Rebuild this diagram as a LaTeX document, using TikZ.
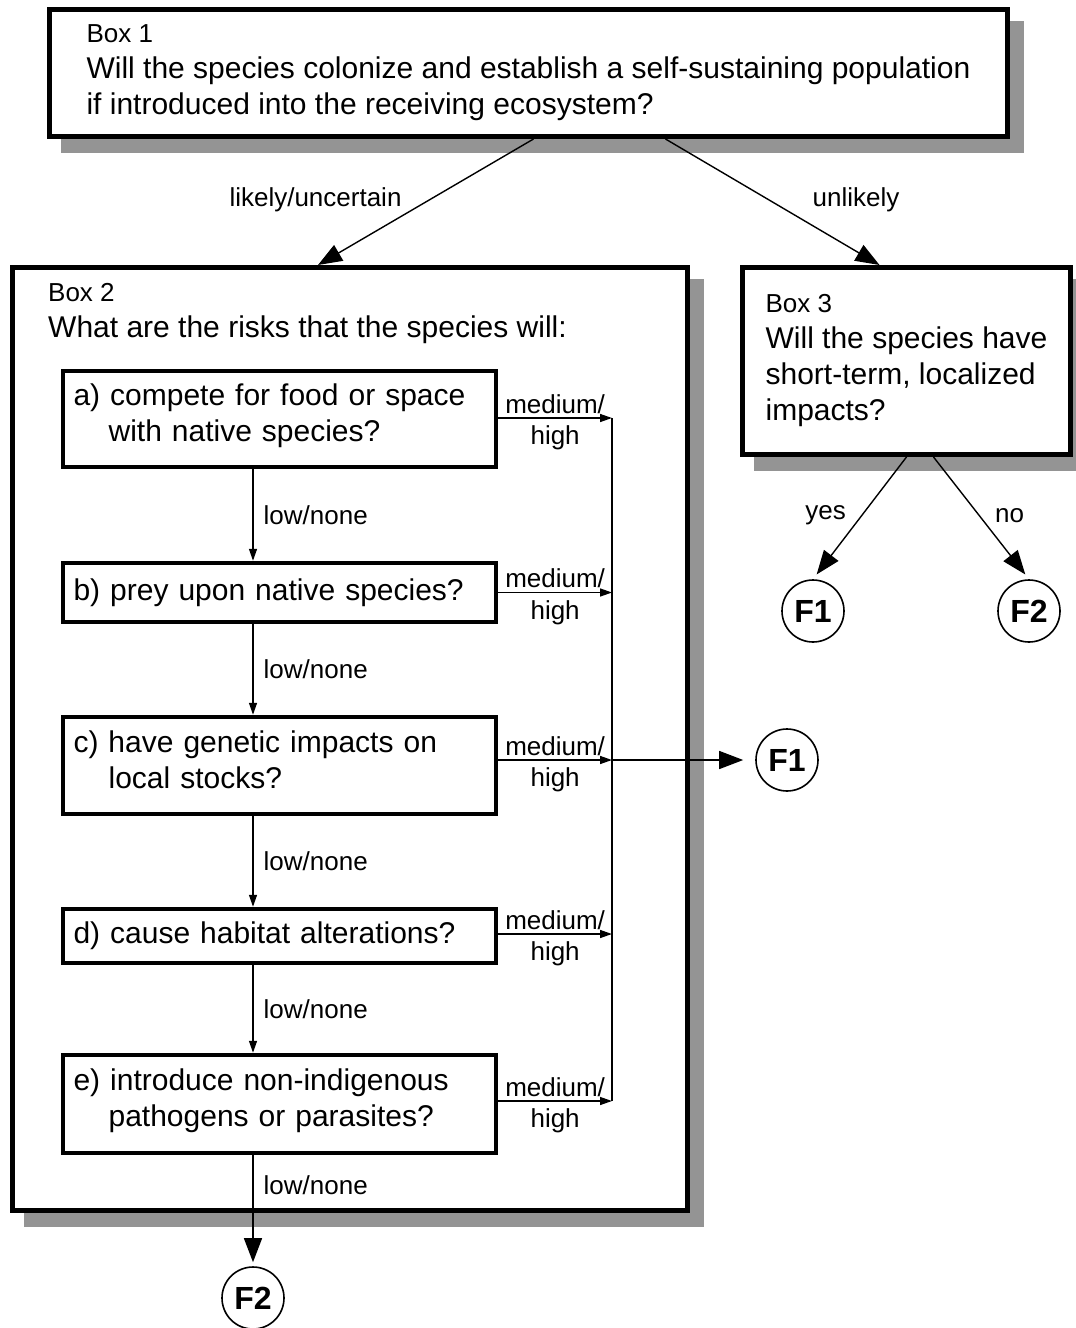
\documentclass[tikz,border=0pt]{standalone}
\usepackage{fontspec}
\setmainfont{Liberation Sans}
\usetikzlibrary{
    arrows.meta,
    positioning
}
\colorlet{shadowgray}{black!42}

\begin{document}
\begin{tikzpicture}[x=1pt, y=-1pt,
    bigbox/.style={draw, line width=5pt, fill=white, align=left, inner sep=0pt,
        font=\fontsize{30}{36}\selectfont,
        preaction={draw=shadowgray, fill=shadowgray,
            transform canvas={xshift=14pt, yshift=-14pt}}},
    question/.style={draw, line width=4.5pt, fill=white, align=left, inner sep=0pt,
        text width=412pt, minimum width=433pt, font=\fontsize{30}{36}\selectfont},
    outcome/.style={circle, draw, line width=1.6pt, minimum size=62pt, inner sep=0pt,
        font=\fontsize{32}{32}\selectfont\bfseries},
    lbl/.style={font=\fontsize{26}{28}\selectfont, inner sep=2pt},
    bigarrow/.style={line width=1.4pt, -{Triangle[length=24pt, width=18pt]}},
    smallarrow/.style={line width=1.4pt, -{Triangle[length=12pt, width=8pt]}}
]
    \useasboundingbox (0,0) rectangle (1076,1328);

    % the three boxes
    \node[bigbox, minimum width=958pt, minimum height=127pt] (box1) at (528.5,73)
        {{\fontsize{26}{30}\selectfont Box 1}\\
         Will the species colonize and establish a self-sustaining population\\
         if introduced into the receiving ecosystem?};
    \node[bigbox, minimum width=675pt, minimum height=943pt] (box2) at (350,739) {};
    \node[bigbox, minimum width=328pt, minimum height=187pt] (box3) at (906.5,361)
        {{\fontsize{26}{30}\selectfont Box 3}\\
         Will the species have\\
         short-term, localized\\
         impacts?};
    \node[anchor=north west, align=left, inner sep=0pt, font=\fontsize{30}{36}\selectfont]
        (box2title) at (48,283)
        {{\fontsize{26}{30}\selectfont Box 2}\\
         What are the risks that the species will:};

    % questions inside box 2
    \node[question, minimum height=96pt, text depth=48pt] (a) at (279.5,419)
        {a) compete for food or space\\\hspace*{1.17em}with native species?};
    \node[question, minimum height=59pt] (b) at (279.5,592.5)
        {b) prey upon native species?};
    \node[question, minimum height=97pt, text depth=48pt] (c) at (279.5,765.5)
        {c) have genetic impacts on\\\hspace*{1.17em}local stocks?};
    \node[question, minimum height=54pt] (d) at (279.5,936)
        {d) cause habitat alterations?};
    \node[question, minimum height=98pt, text depth=48pt] (e) at (279.5,1104)
        {e) introduce non-indigenous\\\hspace*{1.17em}pathogens or parasites?};

    % outcomes
    \node[outcome] (f1c) at (787,760) {F1};
    \node[outcome] (f2b) at (253,1298) {F2};
    \node[outcome] (f1y) at (813,611) {F1};
    \node[outcome] (f2n) at (1029,611) {F2};

    \coordinate (spine) at (253,0);
    \coordinate (bus) at (612,0);

    % box 1 branches
    \draw[bigarrow] ([xshift=5pt]box1.south) -- ([xshift=-32pt]box2.north)
        node[lbl, pos=.6, above left] {likely/uncertain};
    \draw[bigarrow] ([xshift=137pt]box1.south) -- ([xshift=-27pt]box3.north)
        node[lbl, pos=.6, above right, xshift=16pt] {unlikely};

    % box 3 branches
    \draw[bigarrow, shorten >=6pt] (box3.south) -- (f1y.north)
        node[lbl, pos=.48, left=13pt] {yes};
    \draw[bigarrow, shorten >=6pt] ([xshift=27pt]box3.south) -- (f2n.north)
        node[lbl, pos=.48, right=13pt] {no};

    % low/none chain
    \draw[smallarrow] (a.south -| spine) -- (b.north -| spine) node[lbl, midway, right=8pt] {low/none};
    \draw[smallarrow] (b.south -| spine) -- (c.north -| spine) node[lbl, midway, right=8pt] {low/none};
    \draw[smallarrow] (c.south -| spine) -- (d.north -| spine) node[lbl, midway, right=8pt] {low/none};
    \draw[smallarrow] (d.south -| spine) -- (e.north -| spine) node[lbl, midway, right=8pt] {low/none};
    \draw[bigarrow, shorten >=4pt] (e.south -| spine) -- (f2b.north) node[lbl, pos=.27, right=8pt] {low/none};

    % medium/high to F1
    \foreach \q/\lift in {a/1pt, b/0pt, c/5.5pt, d/2pt, e/3pt}
        \draw[smallarrow] ([yshift=\lift]\q.east) -- ([yshift=\lift]\q.east -| bus)
            node[lbl, midway, above=2pt] {medium/}
            node[lbl, midway, below=5pt] {high};
    \draw[line width=1.4pt] ([yshift=1pt]a.east -| bus) -- ([yshift=3pt]e.east -| bus);
    \draw[bigarrow, shorten >=12pt] ([yshift=5.5pt]c.east -| bus) -- (f1c.west);
\end{tikzpicture}
\end{document}
